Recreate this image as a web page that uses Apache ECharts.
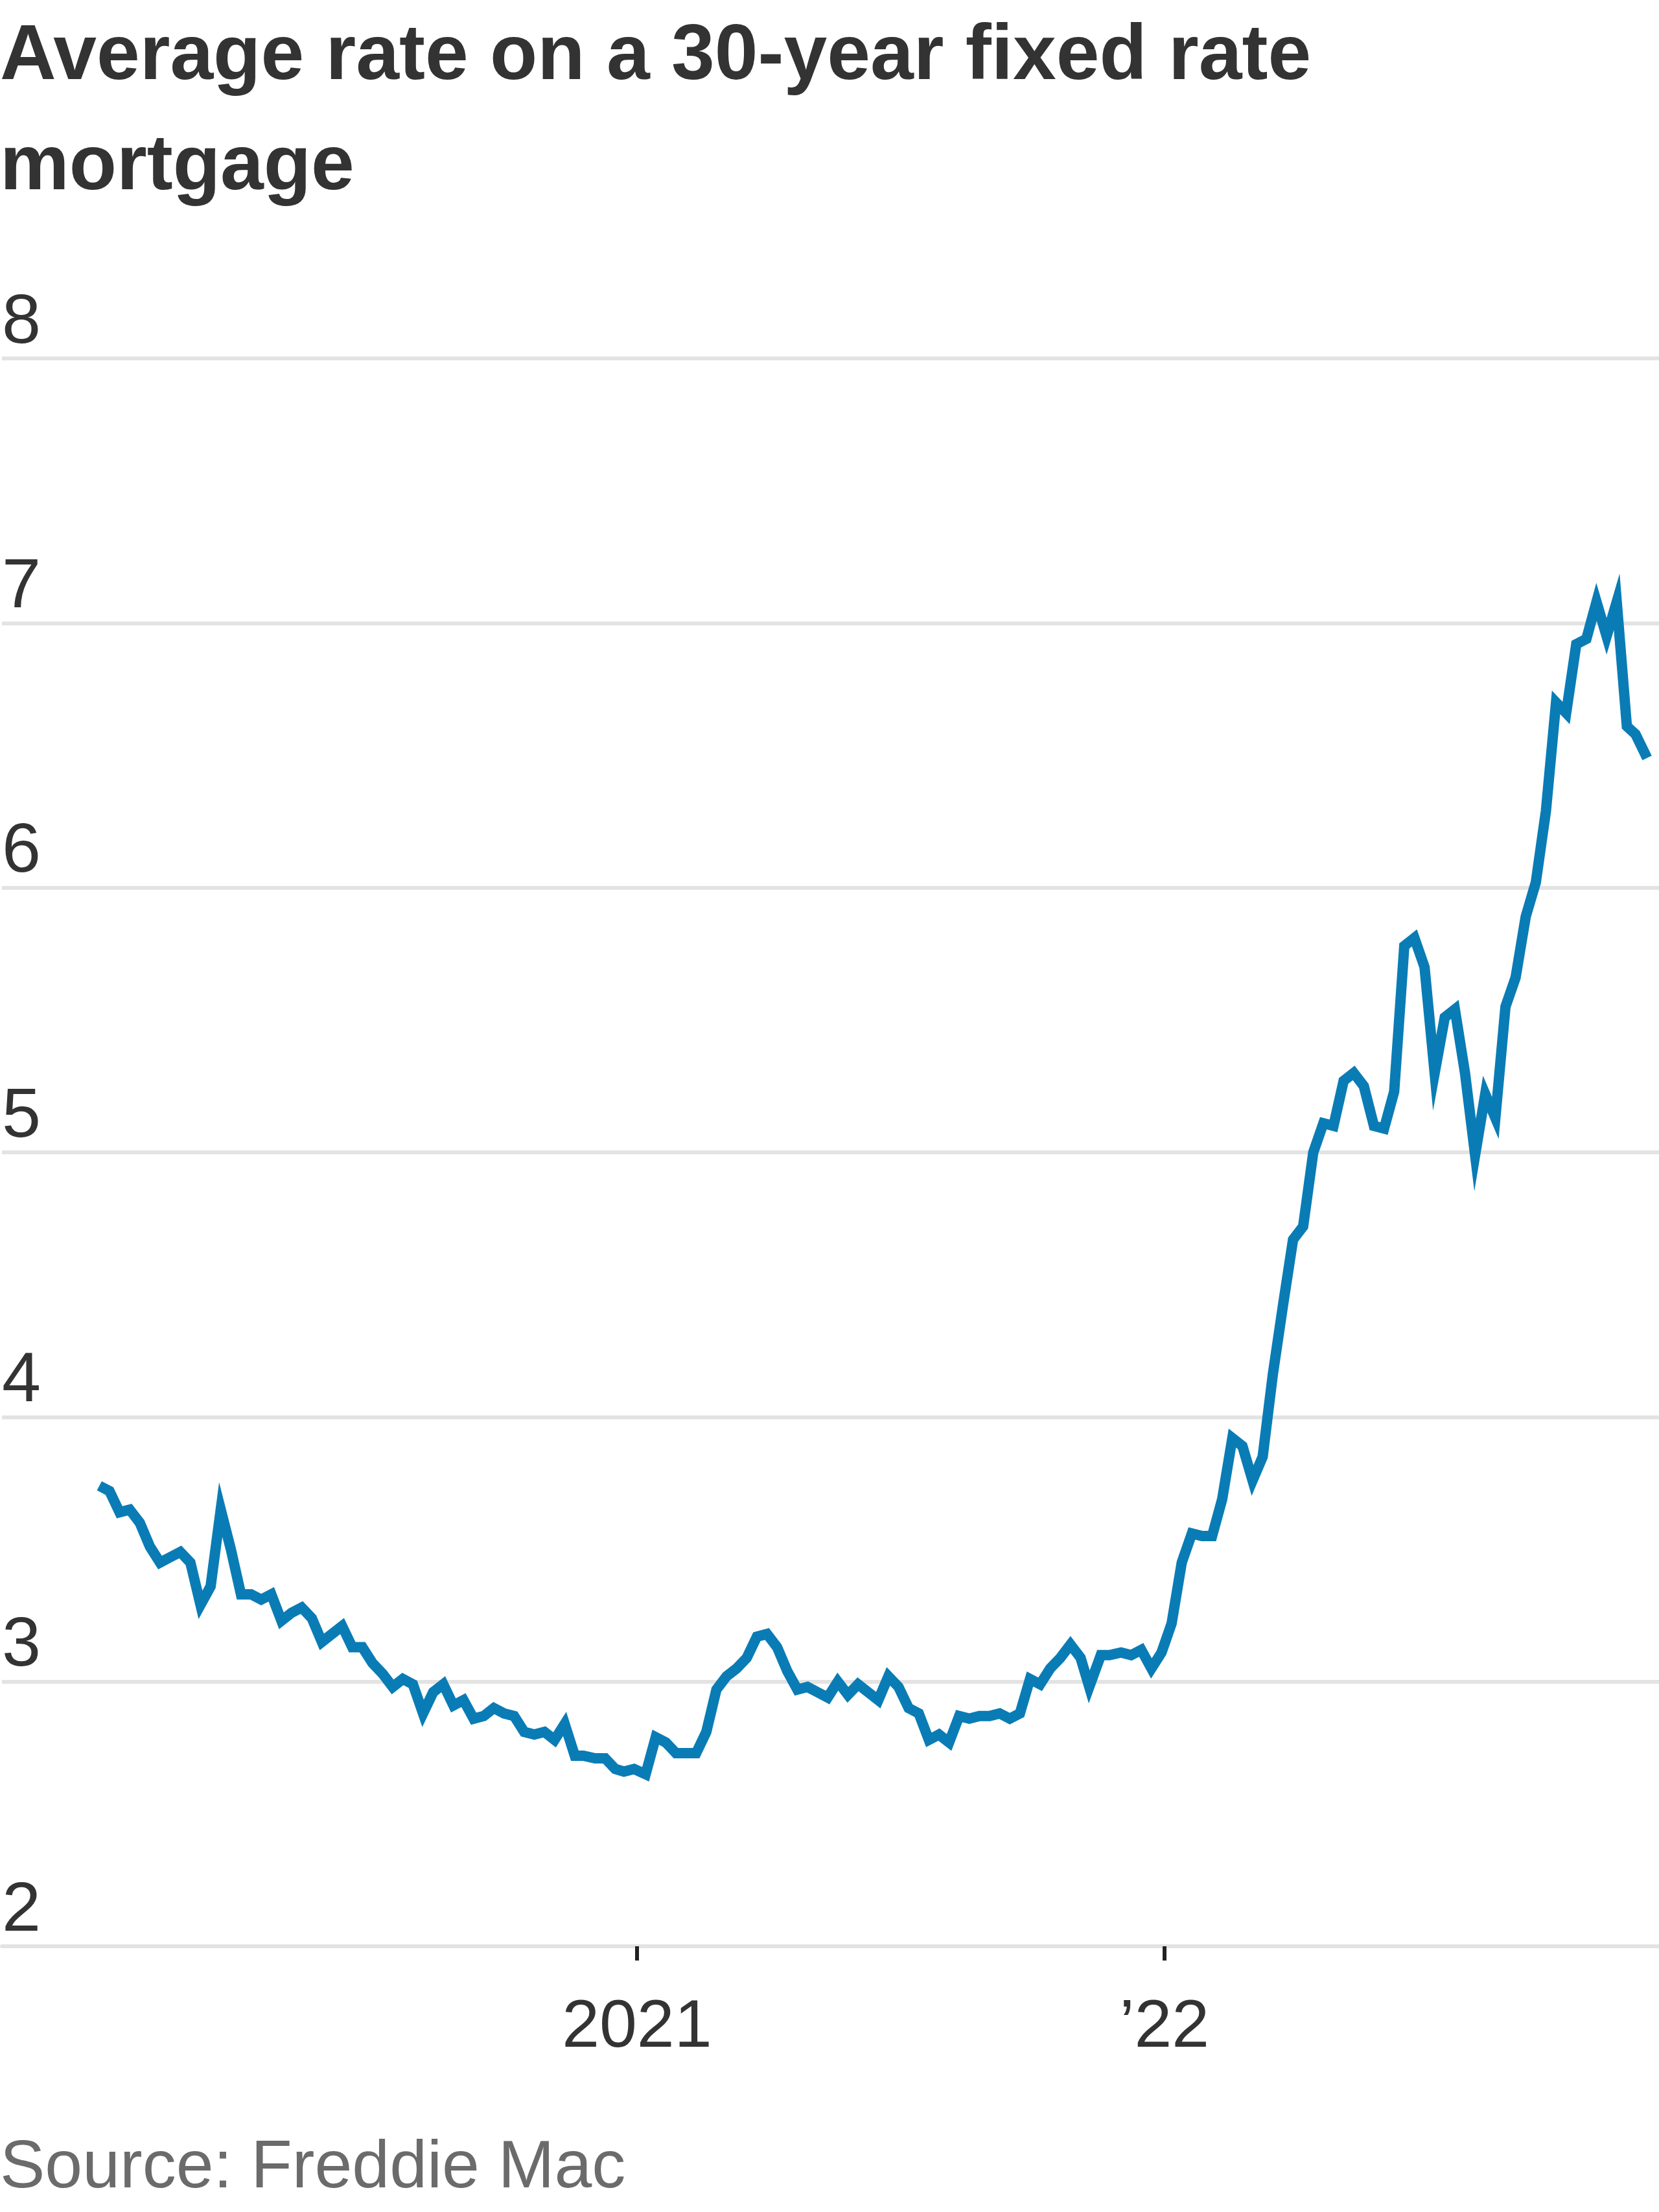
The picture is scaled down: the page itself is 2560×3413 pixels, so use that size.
<!DOCTYPE html>
<html>
<head>
<meta charset="utf-8">
<script src="https://cdn.jsdelivr.net/npm/echarts@6/dist/echarts.min.js"></script>
<style>
html,body{margin:0;padding:0;background:#fff;}
#chart{width:2560px;height:3413px;}
</style>
</head>
<body>
<div id="chart"></div>
<script>
const titleText = 'Average rate on a 30-year fixed rate\nmortgage';
const sourceText = 'Source: Freddie Mac';

const weekDates = [
'2019-12-26','2020-01-02','2020-01-09','2020-01-16','2020-01-23','2020-01-30','2020-02-06','2020-02-13','2020-02-20','2020-02-27',
'2020-03-05','2020-03-12','2020-03-19','2020-03-26','2020-04-02','2020-04-09','2020-04-16','2020-04-23','2020-04-30','2020-05-07',
'2020-05-14','2020-05-21','2020-05-28','2020-06-04','2020-06-11','2020-06-18','2020-06-25','2020-07-02','2020-07-09','2020-07-16',
'2020-07-23','2020-07-30','2020-08-06','2020-08-13','2020-08-20','2020-08-27','2020-09-03','2020-09-10','2020-09-17','2020-09-24',
'2020-10-01','2020-10-08','2020-10-15','2020-10-22','2020-10-29','2020-11-05','2020-11-12','2020-11-19','2020-11-25','2020-12-03',
'2020-12-10','2020-12-17','2020-12-23','2020-12-30','2021-01-07','2021-01-14','2021-01-21','2021-01-28','2021-02-04','2021-02-11',
'2021-02-18','2021-02-25','2021-03-04','2021-03-11','2021-03-18','2021-03-25','2021-04-01','2021-04-08','2021-04-15','2021-04-22',
'2021-04-29','2021-05-06','2021-05-13','2021-05-20','2021-05-27','2021-06-03','2021-06-10','2021-06-17','2021-06-24','2021-07-01',
'2021-07-08','2021-07-15','2021-07-22','2021-07-29','2021-08-05','2021-08-12','2021-08-19','2021-08-26','2021-09-02','2021-09-09',
'2021-09-16','2021-09-23','2021-09-30','2021-10-07','2021-10-14','2021-10-21','2021-10-28','2021-11-04','2021-11-10','2021-11-18',
'2021-11-24','2021-12-02','2021-12-09','2021-12-16','2021-12-23','2021-12-30','2022-01-06','2022-01-13','2022-01-20','2022-01-27',
'2022-02-03','2022-02-10','2022-02-17','2022-02-24','2022-03-03','2022-03-10','2022-03-17','2022-03-24','2022-03-31','2022-04-07',
'2022-04-14','2022-04-21','2022-04-28','2022-05-05','2022-05-12','2022-05-19','2022-05-26','2022-06-02','2022-06-09','2022-06-16',
'2022-06-23','2022-06-30','2022-07-07','2022-07-14','2022-07-21','2022-07-28','2022-08-04','2022-08-11','2022-08-18','2022-08-25',
'2022-09-01','2022-09-08','2022-09-15','2022-09-22','2022-09-29','2022-10-06','2022-10-13','2022-10-20','2022-10-27','2022-11-03',
'2022-11-10','2022-11-17','2022-11-23','2022-12-01'
];

const rateValues = [
3.74,3.72,3.64,3.65,3.60,3.51,3.45,3.47,3.49,3.45,
3.29,3.36,3.65,3.50,3.33,3.33,3.31,3.33,3.23,3.26,
3.28,3.24,3.15,3.18,3.21,3.13,3.13,3.07,3.03,2.98,
3.01,2.99,2.88,2.96,2.99,2.91,2.93,2.86,2.87,2.90,
2.88,2.87,2.81,2.80,2.81,2.78,2.84,2.72,2.72,2.71,
2.71,2.67,2.66,2.67,2.65,2.79,2.77,2.73,2.73,2.73,
2.81,2.97,3.02,3.05,3.09,3.17,3.18,3.13,3.04,2.97,
2.98,2.96,2.94,3.00,2.95,2.99,2.96,2.93,3.02,2.98,
2.90,2.88,2.78,2.80,2.77,2.87,2.86,2.87,2.87,2.88,
2.86,2.88,3.01,2.99,3.05,3.09,3.14,3.09,2.98,3.10,
3.10,3.11,3.10,3.12,3.05,3.11,3.22,3.45,3.56,3.55,
3.55,3.69,3.92,3.89,3.76,3.85,4.16,4.42,4.67,4.72,
5.00,5.11,5.10,5.27,5.30,5.25,5.10,5.09,5.23,5.78,
5.81,5.70,5.30,5.51,5.54,5.30,4.99,5.22,5.13,5.55,
5.66,5.89,6.02,6.29,6.70,6.66,6.92,6.94,7.08,6.95,
7.08,6.61,6.58,6.49
];

const xTickDates = ['2021-01-01', '2022-01-01'];
const xTickLabels = ['2021', '\u201922'];
const yTickValues = [2, 3, 4, 5, 6, 7, 8];

const DAY = 86400000;
const toTime = s => Date.parse(s + 'T00:00:00Z');
const xTickTimes = xTickDates.map(toTime);
const pxPerDay = 2.2326;
const firstTickPx = 981;
const axisMin = xTickTimes[0] - (firstTickPx / pxPerDay) * DAY;
const axisMax = xTickTimes[0] + ((2560 - firstTickPx) / pxPerDay) * DAY;

const seriesData = weekDates.map((d, i) => [toTime(d), rateValues[i]]);

const FONT = "'Liberation Sans', Arial, sans-serif";

const chart = echarts.init(document.getElementById('chart'), null, {renderer: 'canvas'});
chart.setOption({
  animation: false,
  backgroundColor: '#ffffff',
  title: [
    {
      text: titleText,
      left: 0, top: 4, padding: 0,
      textStyle: {fontFamily: FONT, fontWeight: 'bold', fontSize: 120, lineHeight: 170, color: '#333333'}
    },
    {
      text: sourceText,
      left: 0, top: 3294, padding: 0,
      textStyle: {fontFamily: FONT, fontWeight: 'normal', fontSize: 104, color: '#6b6b6b'}
    }
  ],
  grid: {left: 0, right: 0, top: 553, bottom: 410, containLabel: false},
  xAxis: {
    type: 'value',
    min: axisMin,
    max: axisMax,
    axisLine: {show: true, lineStyle: {color: '#e3e3e3', width: 6}},
    axisTick: {show: true, customValues: xTickTimes, length: 22, lineStyle: {color: '#222222', width: 6}},
    axisLabel: {
      show: true, customValues: xTickTimes, margin: 74,
      fontFamily: FONT, fontSize: 104, color: '#333333',
      formatter: v => { const i = xTickTimes.indexOf(v); return i >= 0 ? xTickLabels[i] : ''; }
    },
    splitLine: {show: false}
  },
  yAxis: {
    type: 'value',
    min: yTickValues[0],
    max: yTickValues[yTickValues.length - 1],
    interval: 1,
    axisLine: {show: false},
    axisTick: {show: false},
    axisLabel: {
      inside: true, margin: 0, verticalAlign: 'bottom', align: 'left',
      fontFamily: FONT, fontSize: 108, color: '#333333'
    },
    splitLine: {show: true, lineStyle: {color: '#e3e3e3', width: 6}}
  },
  series: [{
    type: 'line',
    data: seriesData,
    showSymbol: false,
    symbol: 'none',
    lineStyle: {color: '#0a7cb5', width: 16, join: 'miter', cap: 'butt'},
    z: 5
  }]
});
</script>
</body>
</html>
